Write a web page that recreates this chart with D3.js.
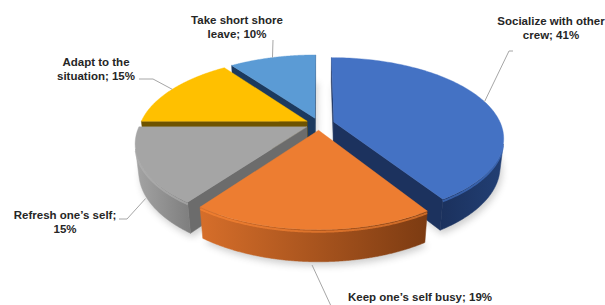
<!DOCTYPE html>
<html><head><meta charset="utf-8">
<script src="https://cdn.jsdelivr.net/npm/d3@7"></script>
<style>body{margin:0;background:#fff;}svg{display:block;}</style>
</head><body><svg id="c" width="605" height="305"></svg>
<script>
// ---- data ----
const categories = ["Socialize with other crew", "Keep one’s self busy", "Refresh one’s self", "Adapt to the situation", "Take short shore leave"];
const values = [41, 19, 15, 15, 10];
const labelLines = [["Socialize with other", "crew; 41%"], ["Keep one’s self busy; 19%"], ["Refresh one’s self;", "15%"], ["Adapt to the", "situation; 15%"], ["Take short shore", "leave; 10%"]];

// ---- styles ----
const topColors = ["#4472C4", "#ED7D31", "#A5A5A5", "#FFC000", "#5B9BD5"];
const wallLeft  = ["#1b315d", "#d66e2a", "#a4a4a4", "#8a6a00", "#2a5680"];
const wallRight = ["#223f74", "#7c3b12", "#7e7e7e", "#6a5000", "#1f4468"];
const cutColors = ["#1c325e", "#9c4a16", "#6c6c6c", "#6e5300", "#1c3a5e"];
const explode = [0.093, 0.08, 0.08, 0.08, 0.08];

// ---- projection (tilted, with perspective) ----
const cx = 319, cy = 124, F = 768, D = 4.6, sinP = 0.464, cosP = Math.sqrt(1 - sinP * sinP), depthH = 0.19;
function proj(X, Z, h) { const d = D - Z * cosP - h * sinP; return [cx + F * X / d, cy + F * (Z * sinP - h * cosP) / d]; }
const camZ = D * cosP;

const svg = d3.select("#c");
const defs = svg.append("defs");
defs.append("filter").attr("id", "blur").attr("x", "-20%").attr("y", "-20%").attr("width", "140%").attr("height", "140%")
  .append("feGaussianBlur").attr("stdDeviation", 3.5);

const arcs = d3.pie().sort(null).value(d => d)(values);
const line = d3.line();
const N = 120;

const slices = arcs.map((a, i) => {
  const m = (a.startAngle + a.endAngle) / 2;
  const e = explode[i];
  const ox = e * Math.sin(m), oz = -e * Math.cos(m);
  const pt = (t, r, h) => proj(ox + r * Math.sin(t), oz - r * Math.cos(t), h);
  return { i, a0: a.startAngle, a1: a.endAngle, m, ox, oz, pt };
});

// shadow
const shadowG = svg.append("g").attr("filter", "url(#blur)").attr("opacity", 0.28).attr("transform", "translate(2,4)");
slices.forEach(s => {
  const pts = [s.pt(0, 0, -depthH)];
  for (let k = 0; k <= N; k++) { const t = s.a0 + (s.a1 - s.a0) * k / N; pts.push(s.pt(t, 1, -depthH)); }
  shadowG.append("path").attr("d", line(pts) + "Z").attr("fill", "#555");
});

const order = slices.slice().sort((p, q) => (-Math.cos(p.m)) - (-Math.cos(q.m)));
const pieG = svg.append("g");

order.forEach(s => {
  const g = pieG.append("g");
  const H = -depthH;
  // radial cut faces
  [[s.a0, -1], [s.a1, 1]].forEach(([t, sg]) => {
    const nx = sg * Math.cos(t), nz = sg * Math.sin(t);
    const vis = (0 - s.ox) * nx + (camZ - s.oz) * nz;
    if (vis > 0) {
      const pts = [s.pt(t, 0, 0), s.pt(t, 1, 0), s.pt(t, 1, H), s.pt(t, 0, H)];
      g.append("path").attr("d", line(pts) + "Z").attr("fill", cutColors[s.i]).attr("stroke", cutColors[s.i]).attr("stroke-width", 0.5);
    }
  });
  // outer wall (visible portion)
  const visT = [];
  for (let k = 0; k <= N * 2; k++) {
    const t = s.a0 + (s.a1 - s.a0) * k / (N * 2);
    const px = s.ox + Math.sin(t), pz = s.oz - Math.cos(t);
    const v = (0 - px) * Math.sin(t) + (camZ - pz) * (-Math.cos(t));
    if (v > 0) visT.push(t);
  }
  if (visT.length > 1) {
    const topPts = visT.map(t => s.pt(t, 1, 0));
    const botPts = visT.map(t => s.pt(t, 1, H)).reverse();
    const all = topPts.concat(botPts);
    const xs = all.map(p => p[0]);
    const gid = "wg" + s.i;
    const lg = defs.append("linearGradient").attr("id", gid).attr("gradientUnits", "userSpaceOnUse")
      .attr("x1", d3.min(xs)).attr("y1", 0).attr("x2", d3.max(xs)).attr("y2", 0);
    lg.append("stop").attr("offset", 0).attr("stop-color", wallLeft[s.i]);
    lg.append("stop").attr("offset", 1).attr("stop-color", wallRight[s.i]);
    g.append("path").attr("d", line(all) + "Z").attr("fill", `url(#${gid})`).attr("stroke", `url(#${gid})`).attr("stroke-width", 0.5);
    // soft bevel highlight along the top rim of the wall
    g.append("path").attr("d", line(visT.map(t => s.pt(t, 1, -0.012))))
      .attr("fill", "none").attr("stroke", d3.color(topColors[s.i]).brighter(0.25)).attr("stroke-width", 2).attr("opacity", 0.6);
  }
  // top face
  const tp = [s.pt(0, 0, 0)];
  for (let k = 0; k <= N; k++) { const t = s.a0 + (s.a1 - s.a0) * k / N; tp.push(s.pt(t, 1, 0)); }
  g.append("path").attr("d", line(tp) + "Z").attr("fill", topColors[s.i]).attr("stroke", topColors[s.i]).attr("stroke-width", 0.4);
});

// ---- labels & leader lines ----
const labelPos = [
  { x: 551, y: 25, path: [[509, 51], [513, 51]], rim: 0 },
  { x: 420, y: 301, path: [[331, 306]], rim: 1 },
  { x: 65, y: 219, path: [[127, 219], [119, 219]], rim: 1 },
  { x: 96, y: 66, path: [[153, 79], [139, 79]], rim: 0 },
  { x: 237, y: 24, path: [[273, 40]], rim: 0 }
];
const lg2 = svg.append("g");
slices.forEach(s => {
  const L = labelPos[s.i];
  const start = L.rim ? s.pt(s.m, 1.0, -depthH - 0.02) : s.pt(s.m, 1.0, 0);
  lg2.append("path").attr("d", line([start].concat(L.path))).attr("fill", "none")
    .attr("stroke", "#a6a6a6").attr("stroke-width", 1);
  const tx = lg2.append("text").attr("x", L.x).attr("y", L.y).attr("text-anchor", "middle")
    .attr("font-family", "'Liberation Sans', Arial, sans-serif").attr("font-weight", "bold")
    .attr("font-size", "11.5px").attr("fill", "#262626");
  labelLines[s.i].forEach((ln, k) => tx.append("tspan").attr("x", L.x).attr("dy", k === 0 ? 0 : 13.5).text(ln));
});
</script>
</body></html>
